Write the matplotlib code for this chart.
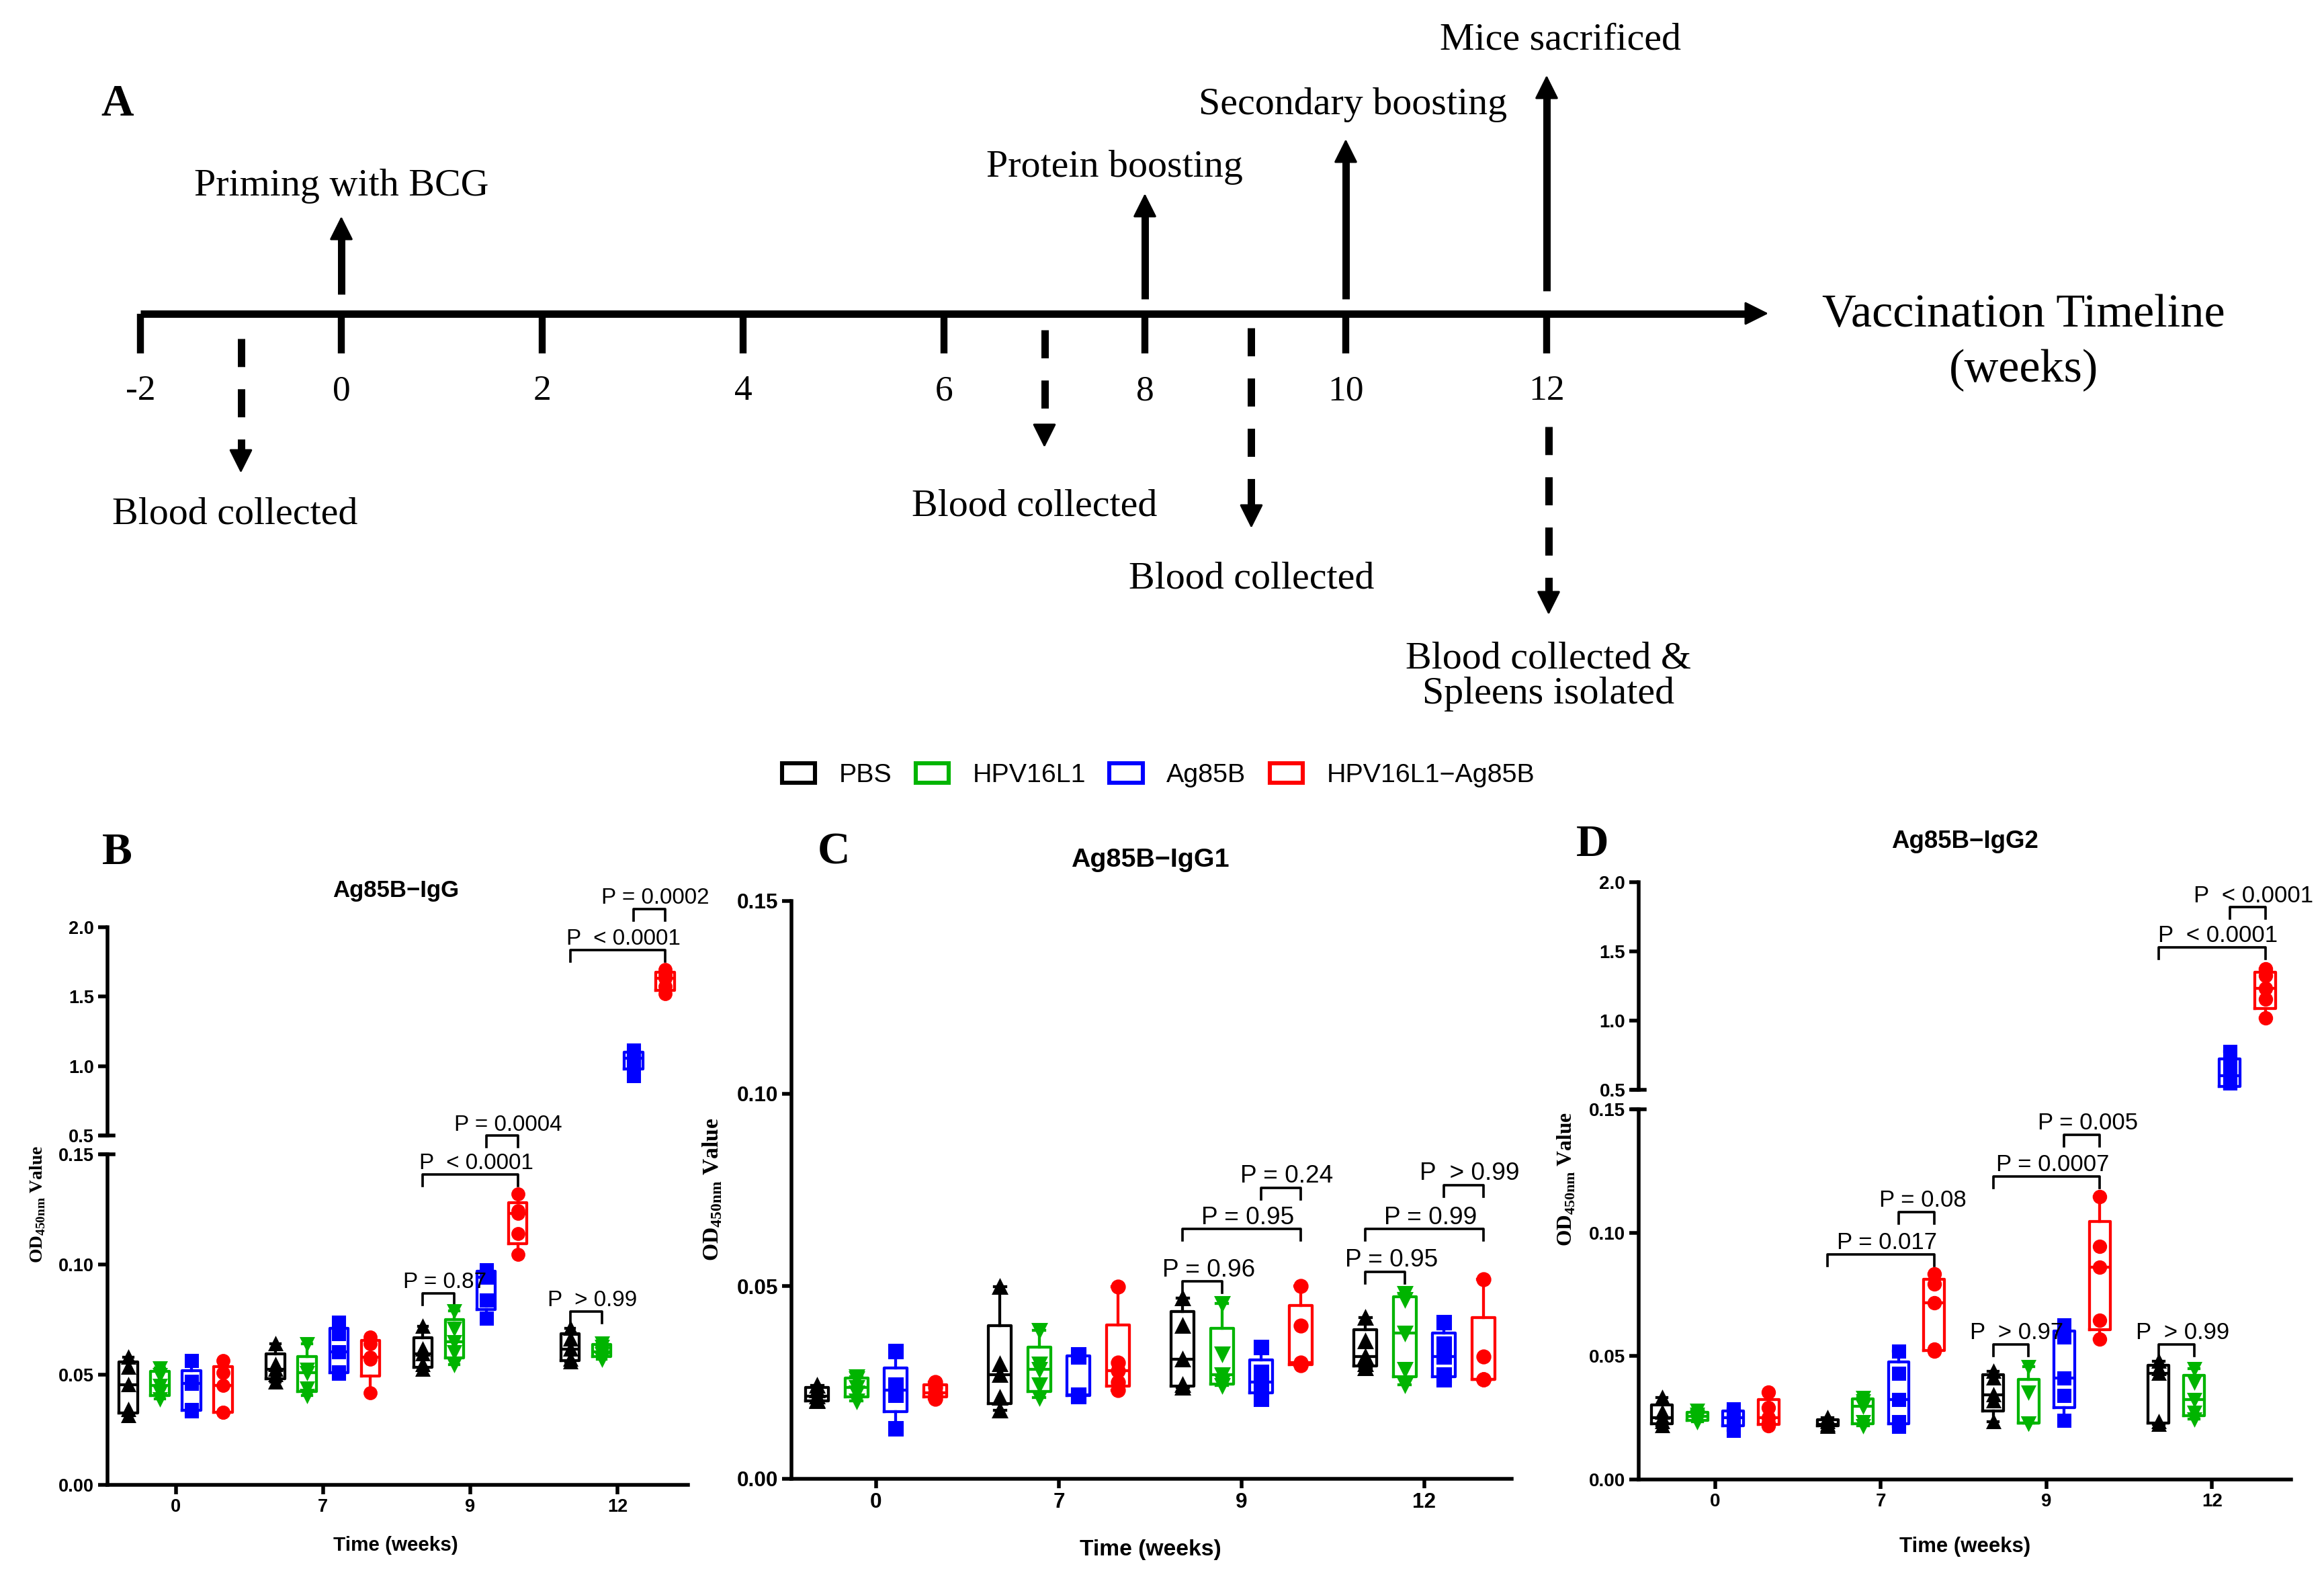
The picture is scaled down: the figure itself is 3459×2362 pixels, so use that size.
import numpy as np
import matplotlib.pyplot as plt
from matplotlib.patches import Patch

# ---------------- data ----------------
weeks = ['0', '7', '9', '12']
groups = ['PBS', 'HPV16L1', 'Ag85B', 'HPV16L1\u2212Ag85B']

# Ag85B-IgG (panel B), 5 mice per box, one list per week
igg_pbs = [[0.058, 0.0535, 0.0454, 0.034, 0.0314], [0.064, 0.0547, 0.0523, 0.050, 0.0465],
           [0.0721, 0.0616, 0.0593, 0.0547, 0.0523], [0.0709, 0.0663, 0.0616, 0.057, 0.0558]]
igg_hpv = [[0.053, 0.050, 0.045, 0.042, 0.039], [0.064, 0.0523, 0.051, 0.044, 0.0407],
           [0.079, 0.071, 0.065, 0.0605, 0.0547], [0.0644, 0.0628, 0.0605, 0.0593, 0.057]]
igg_ag85b = [[0.0565, 0.047, 0.046, 0.034, 0.0335], [0.0737, 0.0686, 0.0605, 0.0512, 0.0507],
             [0.0977, 0.0965, 0.0942, 0.0837, 0.0756], [1.113, 1.083, 1.058, 1.032, 0.929]]
igg_fusion = [[0.0565, 0.051, 0.045, 0.033, 0.033], [0.0672, 0.064, 0.058, 0.057, 0.0419],
              [0.1319, 0.1244, 0.1233, 0.114, 0.1047], [1.697, 1.656, 1.631, 1.575, 1.52]]

# Ag85B-IgG1 (panel C)
igg1_pbs = [[0.0242, 0.0231, 0.0215, 0.0204, 0.0202], [0.0498, 0.0298, 0.0271, 0.0211, 0.0178],
            [0.0469, 0.0398, 0.0311, 0.0244, 0.0238], [0.0418, 0.0358, 0.0318, 0.0298, 0.0287]]
igg1_hpv = [[0.0265, 0.026, 0.0238, 0.0224, 0.0202], [0.0385, 0.0298, 0.0285, 0.0244, 0.0211],
            [0.0456, 0.0325, 0.0271, 0.0251, 0.0242], [0.0482, 0.0465, 0.0378, 0.0285, 0.0244]]
igg1_ag85b = [[0.0331, 0.0244, 0.0231, 0.0218, 0.0131], [0.0322, 0.0318, 0.0218, 0.0218, 0.0215],
              [0.0341, 0.0278, 0.0251, 0.0238, 0.0207], [0.0407, 0.0351, 0.0318, 0.0271, 0.0258]]
igg1_fusion = [[0.0251, 0.0238, 0.0224, 0.0218, 0.0207], [0.0498, 0.0301, 0.0281, 0.0251, 0.0231],
               [0.0501, 0.0398, 0.0301, 0.0298, 0.0295], [0.0518, 0.0318, 0.0258, 0.0258, 0.0258]]

# Ag85B-IgG2 (panel D)
igg2_pbs = [[0.0333, 0.0271, 0.025, 0.0235, 0.0219], [0.025, 0.0235, 0.0223, 0.0219, 0.0215],
            [0.0438, 0.041, 0.0344, 0.0319, 0.0235], [0.0479, 0.0448, 0.0431, 0.0235, 0.0223]]
igg2_hpv = [[0.0281, 0.0265, 0.0256, 0.0244, 0.0235], [0.0333, 0.0319, 0.0298, 0.0235, 0.0219],
            [0.0458, 0.0354, 0.0229, 0.0229, 0.0229], [0.0448, 0.0396, 0.0323, 0.0271, 0.0244]]
igg2_ag85b = [[0.0285, 0.0271, 0.025, 0.0235, 0.0198], [0.0521, 0.0431, 0.0323, 0.0235, 0.0215],
              [0.0625, 0.0577, 0.041, 0.034, 0.024], [0.775, 0.675, 0.6, 0.545, 0.507]]
igg2_fusion = [[0.0354, 0.0292, 0.025, 0.0229, 0.0219], [0.0833, 0.0792, 0.0715, 0.0527, 0.0521],
               [0.1146, 0.0944, 0.086, 0.0646, 0.0569], [1.373, 1.324, 1.231, 1.157, 1.02]]

# comparisons: (week index, group a, group b, bracket height, label)
igg_pvals = [(2, 0, 1, 0.0868, 'P = 0.87'), (2, 0, 3, 0.1409, 'P  < 0.0001'),
             (2, 2, 3, 0.1584, 'P = 0.0004'), (3, 0, 1, 0.0786, 'P  > 0.99'),
             (3, 0, 3, 1.834, 'P  < 0.0001'), (3, 2, 3, 2.13, 'P = 0.0002')]
igg1_pvals = [(2, 0, 1, 0.0512, 'P = 0.96'), (2, 0, 3, 0.0648, 'P = 0.95'),
              (2, 2, 3, 0.0755, 'P = 0.24'), (3, 0, 1, 0.0538, 'P = 0.95'),
              (3, 0, 3, 0.0648, 'P = 0.99'), (3, 2, 3, 0.0763, 'P  > 0.99')]
igg2_pvals = [(1, 0, 3, 0.0913, 'P = 0.017'), (1, 2, 3, 0.1083, 'P = 0.08'),
              (2, 0, 1, 0.0548, 'P  > 0.97'), (2, 0, 3, 0.1229, 'P = 0.0007'),
              (2, 2, 3, 0.1396, 'P = 0.005'), (3, 0, 1, 0.0548, 'P  > 0.99'),
              (3, 0, 3, 1.528, 'P  < 0.0001'), (3, 2, 3, 1.818, 'P  < 0.0001')]

# vaccination schedule (weeks)
tl_ticks = [-2, 0, 2, 4, 6, 8, 10, 12]
up_weeks = [0, 8, 10, 12]
up_labels = ['Priming with BCG', 'Protein boosting', 'Secondary boosting', 'Mice sacrificed']
down_weeks = [-1, 7, 9, 12]
down_labels = ['Blood collected', 'Blood collected', 'Blood collected',
               'Blood collected &\nSpleens isolated']

# ---------------- style ----------------
colors = ['black', '#00b400', '#0000ff', '#ff0000']
markers = ['^', 'v', 's', 'o']
offsets = [-0.322, -0.108, 0.108, 0.322]
BOX_W = 0.125

plt.rcParams['font.family'] = 'Liberation Sans'
plt.rcParams['font.weight'] = 'bold'
plt.rcParams['mathtext.fontset'] = 'custom'
plt.rcParams['mathtext.rm'] = 'Liberation Serif:bold'

W, H, DPI = 3459, 2362, 220
fig = plt.figure(figsize=(W / DPI, H / DPI), dpi=DPI)


def px_axes(x0, x1, ytop, ybot, **kw):
    return fig.add_axes([x0 / W, 1 - ybot / H, (x1 - x0) / W, (ybot - ytop) / H], **kw)


def ftext(x, y, s, **kw):
    fig.text(x / W, 1 - y / H, s, **kw)


def box_stats(vals):
    v = np.asarray(vals)
    q1, med, q3 = np.percentile(v, [25, 50, 75], method='weibull')
    return dict(med=med, q1=q1, q3=q3, whislo=v.min(), whishi=v.max(), fliers=[])


def draw_boxes(ax, series, ms):
    for gi, vals in enumerate(series):
        c = colors[gi]
        pos = np.arange(len(weeks)) + offsets[gi]
        ax.bxp([box_stats(v) for v in vals], positions=pos, widths=BOX_W,
               capwidths=BOX_W * 0.5, showfliers=False, manage_ticks=False,
               boxprops=dict(color=c, lw=1.4), whiskerprops=dict(color=c, lw=1.4),
               capprops=dict(color=c, lw=1.4), medianprops=dict(color=c, lw=1.4))
        for p, v in zip(pos, vals):
            ax.plot(np.full(len(v), p), v, ls='none', marker=markers[gi], color=c,
                    ms=ms, zorder=3)


def style_axis(ax, ylim, ticks, labels, fs, bottom=True, top_cap=False, bottom_cap=False):
    ax.set_xlim(-0.463, 3.478)
    ax.set_ylim(*ylim)
    ax.set_yticks(ticks)
    ax.set_yticklabels(labels, fontsize=fs, fontweight='bold')
    for s in ['top', 'right']:
        ax.spines[s].set_visible(False)
    ax.spines['left'].set_linewidth(1.8)
    ax.spines['bottom'].set_linewidth(1.8)
    ax.tick_params(width=1.8, length=4.5, pad=2)
    if bottom:
        ax.set_xticks(range(len(weeks)))
        ax.set_xticklabels(weeks, fontsize=fs, fontweight='bold')
    else:
        ax.spines['bottom'].set_visible(False)
        ax.set_xticks([])
    ax.patch.set_alpha(0)
    w = 9 / ax.get_window_extent().width
    if top_cap:
        ax.plot([-w, w], [1, 1], transform=ax.transAxes, color='black', lw=1.8, clip_on=False)
    if bottom_cap:
        ax.plot([-w, w], [0, 0], transform=ax.transAxes, color='black', lw=1.8, clip_on=False)


def draw_pvals(ax_lo, ax_hi, pvals, fs):
    for wk, a, b, y, label in pvals:
        ax = ax_hi if (ax_hi is not None and y > 0.3) else ax_lo
        x1, x2 = wk + offsets[a], wk + offsets[b]
        y0, y1 = ax.get_ylim()
        leg = (y1 - y0) * 17 / ax.get_window_extent().height
        ax.plot([x1, x1, x2, x2], [y - leg, y, y, y - leg], color='black', lw=1.2,
                clip_on=False)
        ax.annotate(label, xy=((x1 + x2) / 2, y), xytext=(3, 2.6), textcoords='offset points',
                    ha='center', va='baseline', fontsize=fs, fontweight='normal',
                    annotation_clip=False)


lo_ticks = [0.0, 0.05, 0.10, 0.15]
lo_labels = ['0.00', '0.05', '0.10', '0.15']
hi_ticks = [0.5, 1.0, 1.5, 2.0]
hi_labels = ['0.5', '1.0', '1.5', '2.0']
ylab = 'OD$_{\\mathrm{450nm}}$ Value'

# ---------------- panel A : timeline ----------------
axA = fig.add_axes([0, 0, 1, 1], zorder=-1)
axA.axis('off')
wk0, wpx = 508, 149.5
axA.set_xlim(-wk0 / wpx, (W - wk0) / wpx)
axA.set_ylim(H, 0)
serif = dict(family='Liberation Serif', weight='normal')


def arrow(x, y0, y1, dashed=False):
    d = np.sign(y1 - y0)
    ls = (0, (3.8, 3.0)) if dashed else '-'
    axA.plot([x, x], [y0, y1 - d * 18], color='black', lw=3.6, ls=ls, solid_capstyle='butt')
    axA.annotate('', xy=(x, y1), xytext=(x, y1 - d * 30),
                 arrowprops=dict(arrowstyle='-|>', color='black', lw=1, mutation_scale=25,
                                 shrinkA=0, shrinkB=0))


axA.plot([tl_ticks[0], (2610 - wk0) / wpx], [466.5, 466.5], color='black', lw=3.6,
         solid_capstyle='butt')
axA.annotate('', xy=((2632 - wk0) / wpx, 466.5), xytext=((2600 - wk0) / wpx, 466.5),
             arrowprops=dict(arrowstyle='-|>', color='black', lw=1, mutation_scale=25,
                             shrinkA=0, shrinkB=0))
for t in tl_ticks:
    axA.plot([t, t], [466.5, 526], color='black', lw=3.4, solid_capstyle='butt')
    axA.text(t, 582, str(t), ha='center', va='center', fontsize=17.5, **serif)

up_tip = [322, 288, 207, 112]
up_base = [438, 445, 445, 433]
up_text = [(0, 277), (-0.3, 249), (0.07, 156), (0.14, 60)]
for w, lab, tip, base, (dx, ty) in zip(up_weeks, up_labels, up_tip, up_base, up_text):
    arrow(w, base, tip)
    axA.text(w + dx, ty, lab, ha='center', va='center', fontsize=19, **serif)

dn_start = [504, 491, 488, 635]
dn_tip = [704, 666, 786, 915]
dn_text = [(-0.06, 765), (-0.1, 754), (0.0, 861), (0.0, 1007)]
dn_x = [-1, 7, 9.06, 12.02]
for w, lab, st, tip, (dx, ty) in zip(dn_x, down_labels, dn_start, dn_tip, dn_text):
    arrow(w, st, tip, dashed=True)
    axA.text(w + dx, ty, lab, ha='center', va='center', fontsize=19, linespacing=1.02,
             **serif)

ftext(3012, 469, 'Vaccination Timeline', ha='center', va='center', fontsize=23, **serif)
ftext(3012, 551, '(weeks)', ha='center', va='center', fontsize=23, **serif)
ftext(175, 156, 'A', ha='center', va='center', fontsize=22, family='Liberation Serif',
      weight='bold')

# ---------------- legend ----------------
handles = [Patch(facecolor='white', edgecolor=c, lw=2, label=g) for c, g in zip(colors, groups)]
fig.legend(handles=handles, loc='center', bbox_to_anchor=(1724 / W, 1 - 1154 / H), ncol=4,
           frameon=False, prop=dict(size=12.9, weight='normal'), handlelength=1.25,
           handleheight=0.75, handletextpad=0.9, columnspacing=0.9)

# ---------------- panel B : IgG ----------------
axB_hi = px_axes(160, 1024, 1380, 1690)
axB_lo = px_axes(160, 1024, 1718, 2210)
style_axis(axB_hi, (0.5, 2.0), hi_ticks, hi_labels, 8.9, bottom=False, bottom_cap=True)
style_axis(axB_lo, (0.0, 0.15), lo_ticks, lo_labels, 8.9, top_cap=True)
for ax in (axB_hi, axB_lo):
    draw_boxes(ax, [igg_pbs, igg_hpv, igg_ag85b, igg_fusion], 5.8)
draw_pvals(axB_lo, axB_hi, igg_pvals, 10.9)
ftext(589, 1325, 'Ag85B\u2212IgG', ha='center', va='center', fontsize=11.4)
ftext(589, 2300, 'Time (weeks)', ha='center', va='center', fontsize=9.7)
ftext(56, 1793, ylab, ha='center', va='center', rotation=90, fontsize=9,
      family='Liberation Serif')
ftext(174, 1269, 'B', ha='center', va='center', fontsize=22, family='Liberation Serif')

# ---------------- panel C : IgG1 ----------------
axC = px_axes(1178, 2250, 1341, 2201)
style_axis(axC, (0.0, 0.15), lo_ticks, lo_labels, 10.3)
draw_boxes(axC, [igg1_pbs, igg1_hpv, igg1_ag85b, igg1_fusion], 6.3)
draw_pvals(axC, None, igg1_pvals, 12.1)
ftext(1712, 1280, 'Ag85B\u2212IgG1', ha='center', va='center', fontsize=12.9)
ftext(1712, 2307, 'Time (weeks)', ha='center', va='center', fontsize=11)
ftext(1060, 1770, ylab, ha='center', va='center', rotation=90, fontsize=11,
      family='Liberation Serif')
ftext(1241, 1269, 'C', ha='center', va='center', fontsize=22, family='Liberation Serif')

# ---------------- panel D : IgG2 ----------------
axD_hi = px_axes(2439, 3410, 1313, 1622)
axD_lo = px_axes(2439, 3410, 1651, 2202)
style_axis(axD_hi, (0.5, 2.0), hi_ticks, hi_labels, 9.1, bottom=False, bottom_cap=True)
style_axis(axD_lo, (0.0, 0.15), lo_ticks, lo_labels, 9.1, top_cap=True)
for ax in (axD_hi, axD_lo):
    draw_boxes(ax, [igg2_pbs, igg2_hpv, igg2_ag85b, igg2_fusion], 6)
draw_pvals(axD_lo, axD_hi, igg2_pvals, 11.4)
ftext(2925, 1253, 'Ag85B\u2212IgG2', ha='center', va='center', fontsize=12)
ftext(2925, 2302, 'Time (weeks)', ha='center', va='center', fontsize=10.2)
ftext(2331, 1755, ylab, ha='center', va='center', rotation=90, fontsize=10.3,
      family='Liberation Serif')
ftext(2370, 1257, 'D', ha='center', va='center', fontsize=22, family='Liberation Serif')

fig.savefig('out.png', dpi=DPI)
